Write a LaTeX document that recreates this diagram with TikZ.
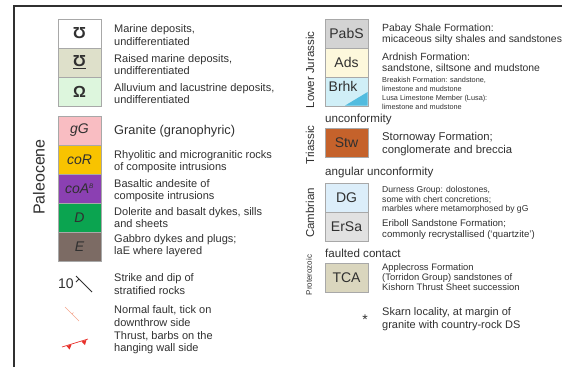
\documentclass[tikz,border=0pt]{standalone}
\usepackage{fontspec}
\setmainfont{Liberation Sans}
\usetikzlibrary{positioning}
\definecolor{txt}{HTML}{303030}
\definecolor{boxline}{HTML}{A8A8A8}
\definecolor{cmarine}{HTML}{FFFFFF}
\definecolor{craised}{HTML}{DEE0CA}
\definecolor{calluv}{HTML}{DDF6DD}
\definecolor{cgG}{HTML}{F9BDC2}
\definecolor{ccoR}{HTML}{F8C300}
\definecolor{ccoA}{HTML}{8B40B2}
\definecolor{cD}{HTML}{0BA450}
\definecolor{cE}{HTML}{7C6B64}
\definecolor{cPabS}{HTML}{D3D3D3}
\definecolor{cAds}{HTML}{FDF8DC}
\definecolor{cBrhk}{HTML}{D0EFF7}
\definecolor{cLusa}{HTML}{52BCDF}
\definecolor{cStw}{HTML}{C5622B}
\definecolor{cDG}{HTML}{DCEEFA}
\definecolor{cErSa}{HTML}{E1E1E1}
\definecolor{cTCA}{HTML}{DAD6BE}
\definecolor{cfault}{HTML}{F4A58C}
\definecolor{cthrust}{HTML}{E8302A}
\begin{document}
\begin{tikzpicture}[x=1pt,y=-1pt,
  unitbox/.style={draw=boxline, line width=0.7pt, minimum width=43pt, minimum height=29pt,
    inner sep=0pt, outer sep=0pt, text=txt, font=\fontsize{14}{14}\selectfont},
  lbox/.style={unitbox, font=\fontsize{14}{14}\selectfont\itshape},
  symb/.style={unitbox, font=\fontsize{16}{16}\selectfont\bfseries},
  desc/.style={anchor=west, align=left, inner sep=0pt, text=txt, font=\fontsize{11}{12.6}\selectfont},
  rdesc/.style={desc, font=\fontsize{10.4}{11.5}\selectfont},
  smalldesc/.style={desc, font=\fontsize{7.3}{9}\selectfont},
  middesc/.style={desc, font=\fontsize{8.6}{9.4}\selectfont},
  sep/.style={anchor=west, inner sep=0pt, text=txt, font=\fontsize{11.6}{13}\selectfont},
  period/.style={rotate=90, inner sep=0pt, text=txt, font=\fontsize{11.5}{12}\selectfont}
]
\useasboundingbox (0,0) rectangle (562,367);
% frame
\draw[line width=1.6pt, txt] (14,367) -- (14,6) -- (562,6);

% ---------- left column ----------
\node[symb, fill=cmarine] (mar) at (79.5,33.5) {\rotatebox[origin=c]{180}{Ω}};
\node[symb, fill=craised] (rai) at (79.5,62.5) {\underline{\rotatebox[origin=c]{180}{Ω}}};
\node[symb, fill=calluv] (all) at (79.5,91.5) {Ω};
\node[desc] (tmar) at (114,35) {Marine deposits,\\undifferentiated};
\node[desc] (trai) at (114,64.5) {Raised marine deposits,\\undifferentiated};
\node[desc] (tall) at (114,93.5) {Alluvium and lacustrine deposits,\\undifferentiated};

\node[lbox, fill=cgG] (gG) at (79.5,130.5) {gG};
\node[lbox, fill=ccoR] (coR) at (79.5,159.5) {coR};
\node[lbox, fill=ccoA] (coA) at (79.5,188.5) {coA\textsuperscript{\fontsize{6.5}{6.5}\selectfont B}};
\node[lbox, fill=cD] (D) at (79.5,217.5) {D};
\node[lbox, fill=cE] (E) at (79.5,247) {E};
\node[desc, font=\fontsize{12.8}{14}\selectfont] (tgG) at (114,131) {Granite (granophyric)};
\node[desc] (tcoR) at (114,161.5) {Rhyolitic and microgranitic rocks\\of composite intrusions};
\node[desc] (tcoA) at (114,190.5) {Basaltic andesite of\\composite intrusions};
\node[desc] (tD) at (114,217.5) {Dolerite and basalt dykes, sills\\and sheets};
\node[desc] (tE) at (114,245.5) {Gabbro dykes and plugs;\\laE where layered};
\node[period, font=\fontsize{16}{16}\selectfont] (paleo) at (39,177) {Paleocene};

% strike and dip
\node[anchor=west, inner sep=0pt, text=txt, font=\fontsize{14}{14}\selectfont] (ten) at (58,284) {10};
\coordinate (s1) at (76,276);
\coordinate (s2) at (92,292);
\draw[txt, line width=0.8pt] (s1) -- (s2);
\draw[txt, line width=0.8pt] (79,279) -- (76,282);
\node[desc] (tstrike) at (114,284) {Strike and dip of\\stratified rocks};

% normal fault
\coordinate (f1) at (65,307);
\coordinate (f2) at (79,321);
\draw[cfault, line width=0.7pt] (f1) -- (f2);
\draw[cfault, line width=0.6pt] (72,314) -- (73.5,312.5);
\node[desc] (tfault) at (114,316) {Normal fault, tick on\\downthrow side};

% thrust
\coordinate (t1) at (62,347);
\coordinate (t2) at (88,339);
\draw[cthrust, line width=0.7pt] (t1) -- (t2);
\fill[cthrust] (66.5,346) -- (71.5,344.6) -- (69.6,349.5) -- cycle;
\fill[cthrust] (81.5,341.6) -- (86.5,339.8) -- (85,345) -- cycle;
\node[desc] (tthrust) at (114,342.5) {Thrust, barbs on the\\hanging wall side};

% ---------- right column ----------
\node[unitbox, fill=cPabS] (PabS) at (346.5,33.5) {PabS};
\node[unitbox, fill=cAds] (Ads) at (346.5,62.5) {Ads};
\node[unitbox, fill=cBrhk] (Brhk) at (346.5,91.5) {};
\fill[cLusa] (345,105.6) -- (367.6,105.6) -- (367.6,92) -- cycle;
\draw[boxline, line width=0.7pt] (Brhk.north west) rectangle (Brhk.south east);
\node[anchor=west, inner sep=0pt, text=txt, font=\fontsize{14}{14}\selectfont] (Brhkl) at (328.5,86) {Brhk};
\node[period] (jur) at (310,70) {Lower Jurassic};
\node[rdesc] (tPabS) at (382,34.5) {Pabay Shale Formation:\\micaceous silty shales and sandstones};
\node[rdesc] (tAds) at (382,63) {Ardnish Formation:\\sandstone, siltsone and mudstone};
\node[smalldesc] (tBrhk) at (382,93.5) {Breakish Formation: sandstone,\\limestone and mudstone\\Lusa Limestone Member (Lusa):\\limestone and mudstone};

\node[sep] (unc) at (325,119) {unconformity};
\node[unitbox, fill=cStw] (Stw) at (346.5,142.5) {Stw};
\node[period] (tri) at (310,145) {Triassic};
\node[desc, font=\fontsize{11.3}{13.5}\selectfont] (tStw) at (382,144) {Stornoway Formation;\\conglomerate and breccia};

\node[sep] (aunc) at (325,172) {angular unconformity};
\node[unitbox, fill=cDG] (DG) at (346.5,197.5) {DG};
\node[unitbox, fill=cErSa] (ErSa) at (346.5,226.5) {ErSa};
\node[period] (camb) at (310,213) {Cambrian};
\node[middesc] (tDG) at (382,200) {Durness Group: dolostones,\\some with chert concretions;\\marbles where metamorphosed by gG};
\node[desc, font=\fontsize{9.6}{11}\selectfont] (tErSa) at (382,229.5) {Eriboll Sandstone Formation;\\commonly recrystallised (‘quartzite’)};

\node[sep] (fc) at (325,253) {faulted contact};
\node[unitbox, fill=cTCA] (TCA) at (346.5,277.5) {TCA};
\node[period, font=\fontsize{8}{8}\selectfont] (prot) at (309,275) {Proterozoic};
\node[desc, font=\fontsize{9.4}{10}\selectfont] (tTCA) at (382,277) {Applecross Formation\\(Torridon Group) sandstones of\\Kishorn Thrust Sheet succession};

\node[inner sep=0pt, text=txt, font=\fontsize{14}{14}\selectfont] (star) at (365,320) {*};
\node[desc, font=\fontsize{11}{12.8}\selectfont] (tskarn) at (382,319.5) {Skarn locality, at margin of\\granite with country-rock DS};
\end{tikzpicture}
\end{document}
